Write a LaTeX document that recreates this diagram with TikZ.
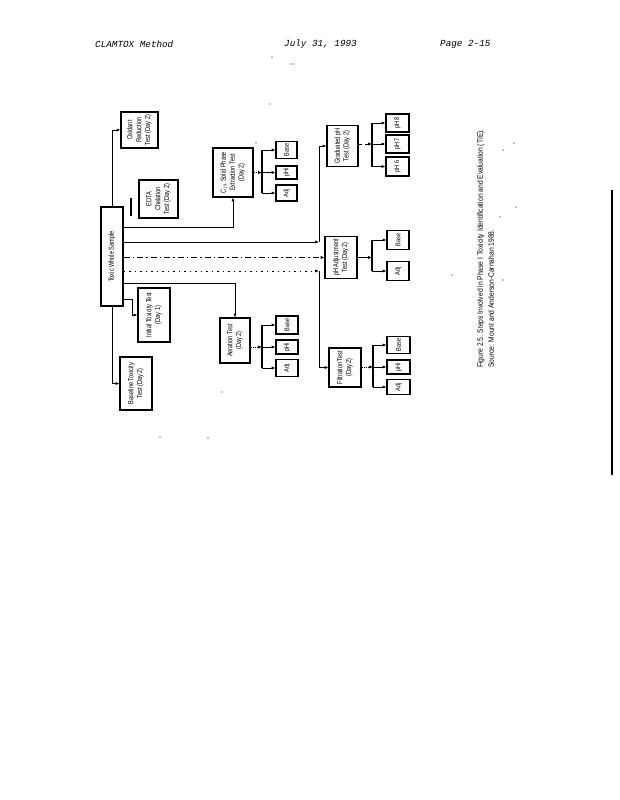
\documentclass[tikz,border=0pt]{standalone}
\usepackage{fontspec}
\usepackage{graphicx}
\setmainfont{Liberation Sans}
\newfontfamily\hdrfont{Liberation Mono}
\usetikzlibrary{arrows.meta}
\newcommand\rt[1]{\rotatebox{90}{\scalebox{0.76}[1]{\fontsize{7.4}{8.8}\selectfont\begin{tabular}{@{}c@{}}#1\end{tabular}}}}
\newcommand\rs[1]{\rotatebox{90}{\scalebox{0.82}[1]{\fontsize{6.8}{7.5}\selectfont #1}}}
\tikzset{
  bx/.style={draw, line width=1.1pt, inner sep=0pt},
  sbx/.style={draw, line width=1.1pt, inner sep=0pt},
  conn/.style={line width=1pt},
  arr/.style={conn, -{Latex[length=3.8pt,width=3.2pt]}},
  hdr/.style={anchor=west, inner sep=0pt, font=\hdrfont\itshape\fontsize{9.3}{11}\selectfont},
  speck/.style={fill=black, draw=none, inner sep=0pt, minimum size=1.3pt, circle}
}
\begin{document}
\begin{tikzpicture}[x=1pt,y=-1pt]
\useasboundingbox (0,0) rectangle (619,800);
\fill[white] (0,0) rectangle (619,800);

% header
\node[hdr] (h1) at (95,44) {CLAMTOX Method};
\node[hdr] (h2) at (284,44) {July 31, 1993};
\node[hdr] (h3) at (440,44) {Page 2-15};

% main box
\node[bx, minimum width=22pt, minimum height=99pt] (main) at (112,256.5) {\rt{Toxic Whole Sample}};

% first level boxes
\node[bx, minimum width=37pt, minimum height=36pt] (ox) at (139.5,130) {\rt{Oxidant\\Reduction\\Test (Day 2)}};
\node[bx, minimum width=39pt, minimum height=38pt] (edta) at (158.5,199) {\rt{EDTA\\Chelation\\Test (Day 2)}};
\node[bx, minimum width=40pt, minimum height=49pt] (c18) at (233,172.5) {\rt{C$_{18}$ Solid Phase\\Extraction Test\\(Day 2)}};
\node[bx, minimum width=32pt, minimum height=54pt] (init) at (154,315) {\rt{Initial Toxicity Test\\(Day 1)}};
\node[bx, minimum width=32pt, minimum height=53pt] (basel) at (136,383.5) {\rt{Baseline Toxicity\\Test (Day 2)}};
\node[bx, minimum width=30pt, minimum height=45pt] (aer) at (235,340.5) {\rt{Aeration Test\\(Day 2)}};
\node[bx, minimum width=31pt, minimum height=41pt] (grad) at (342.5,146) {\rt{Graduated pH\\Test (Day 2)}};
\node[bx, minimum width=32pt, minimum height=42pt] (phadj) at (341,257.5) {\rt{pH Adjustment\\Test (Day 2)}};
\node[bx, minimum width=32pt, minimum height=39pt] (filt) at (345,367.5) {\rt{Filtration Test\\(Day 2)}};

% small boxes
\node[sbx, minimum width=21pt, minimum height=17pt] (c18a) at (286.5,150) {\rs{Base}};
\node[sbx, minimum width=21pt, minimum height=13pt] (c18b) at (286.5,172.5) {\rs{pHi}};
\node[sbx, minimum width=21pt, minimum height=16pt] (c18c) at (286.5,193) {\rs{Adj}};

\node[sbx, minimum width=22pt, minimum height=18pt] (aera) at (287,325) {\rs{Base}};
\node[sbx, minimum width=22pt, minimum height=14pt] (aerb) at (287,347) {\rs{pHi}};
\node[sbx, minimum width=22pt, minimum height=17pt] (aerc) at (287,368) {\rs{Adj}};

\node[sbx, minimum width=23pt, minimum height=18pt] (grada) at (397.5,123) {\rs{pH 8}};
\node[sbx, minimum width=23pt, minimum height=18pt] (gradb) at (397.5,144) {\rs{pH 7}};
\node[sbx, minimum width=23pt, minimum height=19pt] (gradc) at (397.5,166.5) {\rs{pH 6}};

\node[sbx, minimum width=22pt, minimum height=19pt] (pha) at (398,240) {\rs{Base}};
\node[sbx, minimum width=22pt, minimum height=19pt] (phb) at (398,271) {\rs{Adj}};

\node[sbx, minimum width=23pt, minimum height=17pt] (fa) at (398.5,345) {\rs{Base}};
\node[sbx, minimum width=23pt, minimum height=14pt] (fb) at (398.5,367) {\rs{pHi}};
\node[sbx, minimum width=23pt, minimum height=15pt] (fc) at (398.5,387) {\rs{Adj}};

% coordinates
\coordinate (j1) at (235,227);
\coordinate (v1) at (319,242);
\coordinate (v2) at (319,271);
\coordinate (j2) at (235,283);
\coordinate (j3) at (132,299);
\coordinate (eb1) at (131,198);
\coordinate (eb2) at (131,216);

% connectors from main box
\draw[arr] (main.north) |- (ox.west);
\draw[line width=1.8pt] (eb1) -- (eb2);
\draw[arr] (main.east |- j1) -| (c18.south);
\draw[arr] (main.east |- v1) -- (v1);
\draw[arr] (v1) |- (grad.west);
\draw[arr, dash pattern=on 6pt off 3pt on 1.5pt off 3pt] (main.east |- phadj.west) -- (phadj.west);
\draw[arr, dash pattern=on 1.5pt off 4pt] (main.east |- v2) -- (v2);
\draw[arr] (v2) |- (filt.west);
\draw[conn] (main.east |- j2) -- (j2);
\draw[arr] (j2) -- (aer.north);
\draw[arr] (main.east |- j3) -- (j3) |- (init.west);
\draw[arr] (main.south) |- (basel.west);

% C18 bracket
\coordinate (c18t) at (262,150);
\coordinate (c18m) at (262,172.5);
\coordinate (c18u) at (262,193);
\draw[line width=1.4pt] (c18t) -- (c18u);
\draw[arr, densely dotted] (c18.east) -- (c18m);
\draw[arr] (c18t) -- (c18a);
\draw[arr] (c18m) -- (c18b);
\draw[arr] (c18u) -- (c18c);

% Aeration bracket
\coordinate (aert) at (262,325);
\coordinate (aerm) at (262,347);
\coordinate (aeru) at (262,368);
\draw[line width=1.4pt] (aert) -- (aeru);
\draw[arr, densely dotted] (aer.east |- aerm) -- (aerm);
\draw[arr] (aert) -- (aera);
\draw[arr] (aerm) -- (aerb);
\draw[arr] (aeru) -- (aerc);

% Graduated pH bracket
\coordinate (gt) at (372,123);
\coordinate (gm) at (372,144);
\coordinate (gu) at (372,166.5);
\draw[line width=1.4pt] (gt) -- (gu);
\draw[arr, dashed] (grad.east |- gm) -- (gm);
\draw[arr] (gt) -- (grada);
\draw[arr] (gm) -- (gradb);
\draw[arr] (gu) -- (gradc);

% pH adjustment bracket
\coordinate (pt) at (372,240);
\coordinate (pm) at (372,257.5);
\coordinate (pu) at (372,271);
\draw[line width=1.4pt] (pt) -- (pu);
\draw[arr] (phadj.east) -- (pm);
\draw[arr] (pt) -- (pha);
\draw[arr] (pu) -- (phb);

% Filtration bracket
\coordinate (ft) at (373,345);
\coordinate (fm) at (373,367);
\coordinate (fu) at (373,387);
\draw[line width=1.4pt] (ft) -- (fu);
\draw[arr, densely dotted] (filt.east |- fm) -- (fm);
\draw[arr] (ft) -- (fa);
\draw[arr] (fm) -- (fb);
\draw[arr] (fu) -- (fc);

% caption
\node[anchor=south west, inner sep=0pt] (cap) at (475,368) {\rotatebox{90}{\scalebox{0.86}[1]{\fontsize{7.8}{11}\selectfont\begin{tabular}{@{}l@{}}Figure 2.5. Steps Involved in Phase I Toxicity Identification and Evaluation (TIE).\\Source: Mount and Anderson-Carnahan 1988.\end{tabular}}}};

% page edge
\draw[line width=1.3pt] (612,190) -- (612,475);

% specks
\foreach \p in {(272,57),(291,64),(294,64),(256,143),(160,437),(208,438),(222,392),(514,143),(503,150),(516,207),(500,217),(452,275),(503,280),(270,104)}
  \node[speck] at \p {};
\end{tikzpicture}
\end{document}
